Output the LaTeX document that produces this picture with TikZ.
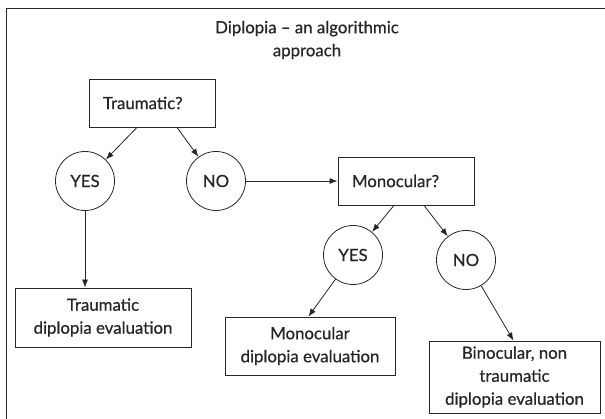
\documentclass[tikz,border=0pt]{standalone}
\usepackage{fontspec}
\setmainfont{Lato}[FakeBold=0.6]
\usepackage{xcolor}
\usepackage{tikz}
\usetikzlibrary{shapes,arrows.meta,positioning,calc}

\definecolor{ink}{HTML}{262626}

\begin{document}
\begin{tikzpicture}[
    x=1pt, y=-1pt,
    every node/.style={text=ink, font=\fontsize{16.8}{23}\selectfont},
    qbox/.style={rectangle, draw=ink, line width=0.8pt, minimum height=48pt, inner xsep=14pt, align=left},
    endbox/.style={rectangle, draw=ink, line width=0.8pt, align=center, inner sep=0pt},
    answer/.style={circle, draw=ink, line width=0.8pt, minimum size=59pt, inner sep=0pt},
    arrow/.style={-{Latex[length=8pt,width=6pt]}, draw=ink, line width=0.8pt}
]
    \useasboundingbox (0,0) rectangle (605,419);
    \draw[ink, line width=0.8pt] (605,8) -| (6,419);

    \node (title) at (307,40) [align=center] {Diplopia -- an algorithmic\\approach};

    \node[qbox, text width=98pt] (traumatic) at (152,103) {Traumatic?};
    \node[answer] (tyes) at (85,181) {YES};
    \node[answer] (tno) at (216,181) {NO};
    \node[qbox, text width=108pt] (monocular) at (406,181) {Monocular?};
    \node[answer] (myes) at (353,255) {YES};
    \node[answer] (mno) at (466,260) {NO};

    \node[endbox, minimum width=176pt, minimum height=59pt] (teval) at (103,317.5) {Traumatic\\diplopia evaluation};
    \node[endbox, minimum width=170pt, minimum height=58pt] (meval) at (310,346) {Monocular\\diplopia evaluation};
    \node[endbox, minimum width=171pt, minimum height=72pt] (beval) at (514.5,377) {Binocular, non\\traumatic\\diplopia evaluation};

    \draw[arrow] ([xshift=-15pt]traumatic.south) -- (tyes);
    \draw[arrow] ([xshift=25pt]traumatic.south) -- (tno);
    \draw[arrow] (tno) -- (monocular);
    \draw[arrow] (tyes) -- (tyes |- teval.north);
    \draw[arrow] ([xshift=-12pt]monocular.south) -- (myes);
    \draw[arrow] ([xshift=18pt]monocular.south) -- (mno);
    \draw[arrow] (myes) -- ([xshift=-87pt]meval.north east);
    \draw[arrow] (mno) -- ([xshift=-1pt]beval.north);
\end{tikzpicture}
\end{document}
